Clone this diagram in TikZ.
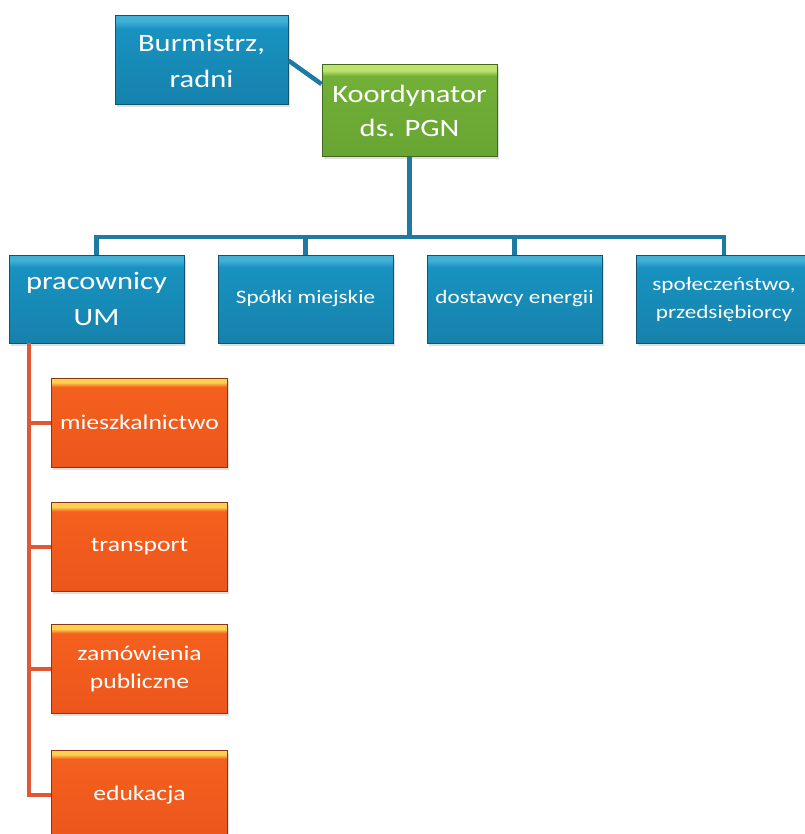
\documentclass[tikz,border=0pt]{standalone}
\usepackage{fontspec}
\setmainfont{Carlito}[FakeStretch=1.22]
\usepackage{xcolor}
\usepackage{tikz}
\usetikzlibrary{shadows}
\definecolor{umblue}{RGB}{24,146,192}
\definecolor{umbluetop}{RGB}{66,176,214}
\definecolor{umbluebot}{RGB}{22,130,172}
\definecolor{umbluedark}{RGB}{16,84,112}
\definecolor{linkblue}{RGB}{30,122,162}
\definecolor{pgngreen}{RGB}{114,176,56}
\definecolor{pgngreentop}{RGB}{190,226,110}
\definecolor{pgngreenbot}{RGB}{104,164,50}
\definecolor{pgngreendark}{RGB}{66,104,32}
\definecolor{sektorange}{RGB}{244,96,30}
\definecolor{sektorangetop}{RGB}{250,210,80}
\definecolor{sektorangebot}{RGB}{236,86,28}
\definecolor{sektorangedark}{RGB}{140,52,22}
\definecolor{linkred}{RGB}{226,86,52}
\pgfdeclareverticalshading{bluebox}{100bp}{color(0bp)=(umbluebot); color(25bp)=(umbluebot); color(68bp)=(umblue); color(72bp)=(umbluetop); color(100bp)=(umbluetop)}
\pgfdeclareverticalshading{greenbox}{100bp}{color(0bp)=(pgngreenbot); color(25bp)=(pgngreenbot); color(69bp)=(pgngreen); color(72bp)=(pgngreentop); color(100bp)=(pgngreentop)}
\pgfdeclareverticalshading{orangebox}{100bp}{color(0bp)=(sektorangebot); color(25bp)=(sektorangebot); color(70bp)=(sektorange); color(72.5bp)=(sektorangetop); color(100bp)=(sektorangetop)}

\begin{document}
\begin{tikzpicture}[x=1pt, y=1pt,
    boxbase/.style={rectangle, line width=1pt, text=white, align=center, inner sep=2pt,
        drop shadow={opacity=0.25, shadow xshift=1.5pt, shadow yshift=-2.5pt}},
    umbox/.style={boxbase, shading=bluebox, draw=umbluedark, minimum width=175pt, minimum height=88pt,
        font=\fontsize{19}{28}\selectfont},
    headbox/.style={umbox, font=\fontsize{25}{36}\selectfont},
    pgnbox/.style={boxbase, shading=greenbox, draw=pgngreendark, minimum width=175pt, minimum height=92pt,
        font=\fontsize{25}{34}\selectfont},
    sektorbox/.style={boxbase, shading=orangebox, draw=sektorangedark, minimum width=176pt, minimum height=89pt,
        font=\fontsize{21}{28}\selectfont},
    bluelink/.style={draw=linkblue, line width=4.5pt},
    redlink/.style={draw=linkred, line width=4pt}]

    % Page frame
    \useasboundingbox (0,0) rectangle (804,-834);

    % Top level
    \node[headbox, minimum width=173pt, minimum height=89pt] (burm) at (201.5,-60.5) {Burmistrz,\\radni};
    \node[pgnbox] (koord) at (409.5,-111) {Koordynator\\ds. PGN};

    % Second row
    \node[headbox] (prac) at (96.5,-299) {pracownicy\\UM};
    \node[umbox] (spolki) at (305.5,-299) {Spółki miejskie};
    \node[umbox] (dost) at (514.5,-299) {dostawcy energii};
    \node[umbox] (spol) at (724,-299) {społeczeństwo,\\przedsiębiorcy};

    % Departments
    \node[sektorbox] (miesz) at (139.5,-422.5) {mieszkalnictwo};
    \node[sektorbox] (trans) at (139.5,-547) {transport};
    \node[sektorbox] (zam) at (139.5,-669) {zamówienia\\publiczne};
    \node[sektorbox] (edu) at (139.5,-794.5) {edukacja};

    % Blue connectors
    \coordinate (busL) at (96.5,-237);
    \coordinate (busR) at (724,-237);
    \draw[bluelink] (burm.east) -- (koord.163);
    \draw[bluelink] (koord.south) -- (koord.south |- busL);
    \draw[bluelink] (prac.north) -- (busL) -- (busR) -- (spol.north);
    \draw[bluelink] (spolki.north) -- (spolki.north |- busL);
    \draw[bluelink] (dost.north) -- (dost.north |- busL);

    % Red connectors
    \coordinate (trunk) at (29,-343);
    \draw[redlink] (trunk) |- (edu.west);
    \foreach \n in {miesz, trans, zam} {
        \draw[redlink] (\n.west) -- (\n.west -| trunk);
    }

\end{tikzpicture}
\end{document}
